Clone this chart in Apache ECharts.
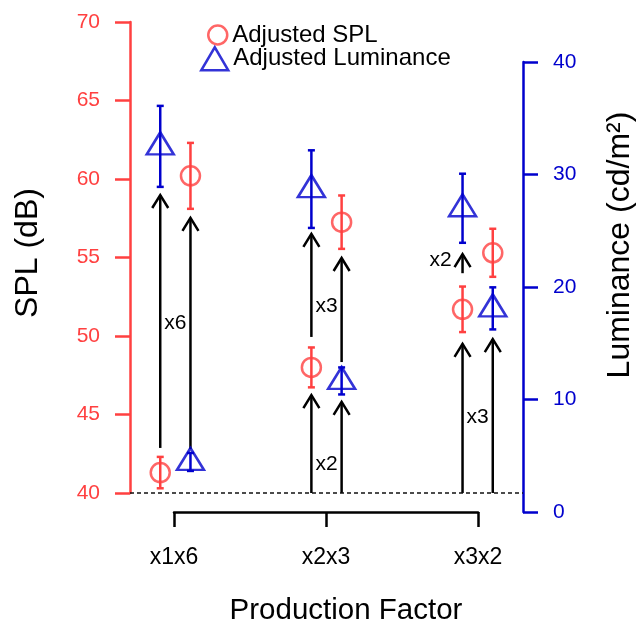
<!DOCTYPE html>
<html><head><meta charset="utf-8">
<script src="https://cdn.jsdelivr.net/npm/echarts@6/dist/echarts.min.js"></script>
<style>html,body{margin:0;padding:0;background:#fff}#c{width:641px;height:627px}</style>
</head><body><div id="c"></div>
<script>
const categories = ['x1x6', 'x2x3', 'x3x2'];
// SPL (dB) values, left-offset and right-offset markers per category
const splLeft = [41.3, 48.0, 51.7];
const splLeftErr = [1.0, 1.27, 1.45];
const splRight = [60.2, 57.25, 55.3];
const splRightErr = [2.1, 1.7, 1.53];
// Luminance (cd/m2) values
const lumLeft = [32.5, 28.7, 27.0];
const lumLeftErr = [3.6, 3.45, 3.07];
const lumRight = [4.45, 11.65, 18.1];
const lumRightErr = [0.8, 1.2, 1.87];
// annotation arrows (in SPL units)
const arrowX = [-0.1, 0.1, 0.9, 0.9, 1.1, 1.1, 1.9, 2.1, 1.9];
const arrowFrom = [42.87, 42.8, 40, 49.94, 40, 48.34, 40, 40, 54.0];
const arrowTo = [58.98, 57.52, 46.24, 56.5, 45.8, 54.97, 49.5, 49.8, 55.22];
const noteText = ['x6', 'x3', 'x2', 'x3', 'x2'];
const noteX = [0, 1, 1, 2, 1.755];
const noteY = [50.83, 51.91, 41.85, 44.84, 54.84];

const RED = '#FF4040', BLUE = '#0000CD';
const FONT = 'Liberation Sans, Arial, Helvetica, sans-serif';
const OFF = 0.1;

function pts(vals, dx) { return vals.map((v, i) => [i + dx, v]); }
function errs(vals, e, dx) { return vals.map((v, i) => [i + dx, v - e[i], v + e[i]]); }
function errRender(color) {
  return function (params, api) {
    const x = api.value(0);
    const a = api.coord([x, api.value(1)]), b = api.coord([x, api.value(2)]);
    const w = 3.5, st = { stroke: color, lineWidth: 2.5 };
    return { type: 'group', children: [
      { type: 'line', shape: { x1: a[0], y1: a[1], x2: b[0], y2: b[1] }, style: st },
      { type: 'line', shape: { x1: a[0] - w, y1: a[1], x2: a[0] + w, y2: a[1] }, style: st },
      { type: 'line', shape: { x1: b[0] - w, y1: b[1], x2: b[0] + w, y2: b[1] }, style: st }
    ] };
  };
}

const chart = echarts.init(document.getElementById('c'), null, { renderer: 'canvas' });
chart.setOption({
  animation: false,
  backgroundColor: '#fff',
  textStyle: { fontFamily: FONT },
  grid: [
    { left: 130, right: 118, top: 22, height: 471 },
    { left: 130, right: 118, top: 62, height: 450 },
    { left: 174, width: 304, top: 400, height: 112 }
  ],
  legend: [
    { left: 202, top: 18, itemWidth: 19, itemHeight: 19, data: ['Adjusted SPL'],
      itemStyle: { color: 'transparent', borderColor: RED, borderWidth: 2.5 },
      textStyle: { fontSize: 24, color: '#000', fontFamily: FONT } },
    { left: 195, top: 41, itemWidth: 27, itemHeight: 23, data: ['Adjusted Luminance'],
      itemStyle: { color: 'transparent', borderColor: BLUE, borderWidth: 2.5 },
      textStyle: { fontSize: 24, color: '#000', fontFamily: FONT } }
  ],
  xAxis: [
    { gridIndex: 0, type: 'value', min: -0.3, max: 2.3, show: false },
    { gridIndex: 1, type: 'value', min: -0.3, max: 2.3, show: false },
    { gridIndex: 2, type: 'category', data: categories, boundaryGap: false,
      axisLine: { lineStyle: { color: '#000', width: 2.5 } },
      axisTick: { length: 15, lineStyle: { color: '#000', width: 2.5 } },
      axisLabel: { fontSize: 23, color: '#000', margin: 34, fontFamily: FONT },
      splitLine: { show: false } }
  ],
  yAxis: [
    { gridIndex: 0, type: 'value', min: 40, max: 70, interval: 5, position: 'left',
      axisLine: { show: true, onZero: false, lineStyle: { color: RED, width: 2.5 } },
      axisTick: { show: true, length: 15, lineStyle: { color: RED, width: 2.5 } },
      axisLabel: { color: RED, fontSize: 21, margin: 30, fontFamily: FONT },
      splitLine: { show: false } },
    { gridIndex: 1, type: 'value', min: 0, max: 40, interval: 10, position: 'right',
      axisLine: { show: true, onZero: false, lineStyle: { color: BLUE, width: 2.5 } },
      axisTick: { show: true, length: 15, lineStyle: { color: BLUE, width: 2.5 } },
      axisLabel: { color: BLUE, fontSize: 21, margin: 30, fontFamily: FONT },
      splitLine: { show: false } },
    { gridIndex: 2, type: 'value', show: false }
  ],
  graphic: [
    { type: 'text', x: 28, y: 253, rotation: Math.PI / 2,
      style: { text: 'SPL (dB)', fontSize: 32, fill: '#000', align: 'center', verticalAlign: 'middle', fontFamily: FONT } },
    { type: 'text', x: 620, y: 245, rotation: Math.PI / 2,
      style: { text: 'Luminance (cd/m²)', fontSize: 32, fill: '#000', align: 'center', verticalAlign: 'middle', fontFamily: FONT } },
    { type: 'text', x: 346, y: 611,
      style: { text: 'Production Factor', fontSize: 29.5, fill: '#000', align: 'center', verticalAlign: 'middle', fontFamily: FONT } }
  ],
  series: [
    { name: 'splErr', type: 'custom', xAxisIndex: 0, yAxisIndex: 0,
      renderItem: errRender(RED),
      data: errs(splLeft, splLeftErr, -OFF).concat(errs(splRight, splRightErr, OFF)) },
    { name: 'Adjusted SPL', type: 'scatter', xAxisIndex: 0, yAxisIndex: 0,
      symbol: 'circle', symbolSize: 19,
      itemStyle: { color: 'transparent', borderColor: RED, borderWidth: 2.5 },
      data: pts(splLeft, -OFF).concat(pts(splRight, OFF)),
      markLine: { silent: true, symbol: ['none', 'none'], label: { show: false },
        lineStyle: { color: '#111', width: 1.5, type: [4, 3] },
        data: [{ yAxis: 40 }] } },
    { name: 'lumErr', type: 'custom', xAxisIndex: 1, yAxisIndex: 1,
      renderItem: errRender(BLUE),
      data: errs(lumLeft, lumLeftErr, -OFF).concat(errs(lumRight, lumRightErr, OFF)) },
    { name: 'Adjusted Luminance', type: 'scatter', xAxisIndex: 1, yAxisIndex: 1,
      symbol: 'triangle', symbolSize: [27, 22], symbolOffset: [0, -3],
      itemStyle: { color: 'transparent', borderColor: BLUE, borderWidth: 2.5 },
      data: pts(lumLeft, -OFF).concat(pts(lumRight, OFF)) },
    { name: 'arrows', type: 'custom', xAxisIndex: 0, yAxisIndex: 0,
      renderItem: function (params, api) {
        const x = api.value(0);
        const a = api.coord([x, api.value(1)]), b = api.coord([x, api.value(2)]);
        const hw = 8, hl = 13, st = { stroke: '#000', lineWidth: 2.5, fill: null };
        return { type: 'group', children: [
          { type: 'line', shape: { x1: a[0], y1: a[1], x2: b[0], y2: b[1] }, style: st },
          { type: 'polyline', shape: { points: [[b[0] - hw, b[1] + hl], [b[0], b[1]], [b[0] + hw, b[1] + hl]] }, style: st }
        ] };
      },
      data: arrowX.map((x, i) => [x, arrowFrom[i], arrowTo[i]]) },
    { name: 'notes', type: 'custom', xAxisIndex: 0, yAxisIndex: 0,
      renderItem: function (params, api) {
        const p = api.coord([api.value(0), api.value(1)]);
        return { type: 'text', x: p[0], y: p[1],
          style: { text: noteText[params.dataIndex], fontSize: 21, fill: '#000', align: 'center', verticalAlign: 'middle', fontFamily: FONT } };
      },
      data: noteX.map((x, i) => [x, noteY[i]]) }
  ]
});
</script>
</body></html>
